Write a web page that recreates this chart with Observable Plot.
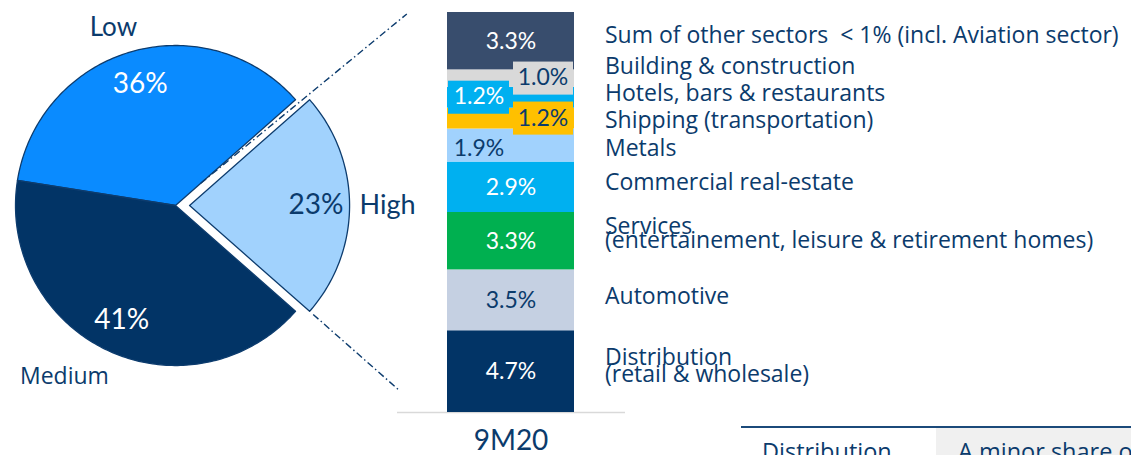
<!DOCTYPE html>
<html>
<head>
<meta charset="utf-8">
<script src="https://cdn.jsdelivr.net/npm/d3@7"></script>
<script src="https://cdn.jsdelivr.net/npm/@observablehq/plot@0.6"></script>
<style>
  html, body { margin: 0; padding: 0; background: #fff; }
  #wrap { position: relative; width: 1131px; height: 455px; overflow: hidden; font-family: Lato, sans-serif; color: #0b3b6c; }
  #pie { position: absolute; left: 0; top: 0; }
  #bar { position: absolute; left: 390px; top: 0; }
  .abs { position: absolute; }
  .tbl { font-family: "Open Sans", sans-serif; font-size: 23.5px; line-height: 21px; white-space: nowrap; }
</style>
</head>
<body>
<div id="wrap">
  <div id="pie"></div>
  <div id="bar"></div>
  <div class="abs" style="left:741px;top:426px;width:390px;height:1.5px;background:#1b4a7a;"></div>
  <div class="abs" style="left:936px;top:428px;width:195px;height:27px;background:#f0f0f0;"></div>
  <div class="abs tbl" style="left:762px;top:441px;">Distribution</div>
  <div class="abs tbl" style="left:958px;top:441px;">A minor share of</div>
</div>
<script>
// ---------- DATA ----------
const pieCategories = ["Low", "Medium", "High"];
const pieShares = [36, 41, 23];
const pieLabels = ["36%", "41%", "23%"];

const period = "9M20";
const sectors = [
  "Distribution\n(retail & wholesale)",
  "Automotive",
  "Services\n(entertainement, leisure & retirement homes)",
  "Commercial real-estate",
  "Metals",
  "Shipping (transportation)",
  "Hotels, bars & restaurants",
  "Building & construction",
  "Sum of other sectors \u00a0< 1% (incl. Aviation sector)"
];
const sectorShares = [4.7, 3.5, 3.3, 2.9, 1.9, 1.2, 1.2, 1.0, 3.3];
const sectorLabels = ["4.7%", "3.5%", "3.3%", "2.9%", "1.9%", "1.2%", "1.2%", "1.0%", "3.3%"];

// ---------- STYLE ----------
const navy = "#0b3b6c";
const pieColors = {Low: "#0a8bff", Medium: "#023466", High: "#a1d2fd"};
const sectorColors = ["#023466", "#c5d0e2", "#00b050", "#00b0f0", "#a1d2fd", "#ffc000", "#00b0f0", "#d9d9d9", "#384d6d"];
const sectorTextColors = ["#fff", navy, "#fff", "#fff", navy, navy, "#fff", navy, "#fff"];
// value label placement: 0 = centred, 1 = right box, -1 = left
const valuePlace = [0, 0, 0, 0, -1, 1, -1, 1, 0];
const valueBox = [false, false, false, false, false, true, true, true, false];
const valueNudgePx = [0, 0, 0, 0, 3, 0, -1, -1, 0];
const namesNudgePx = [-4, -4, -5, -5, 3, 2, -4, -12, -6];
const labelFont = "'Open Sans', sans-serif";

// ---------- PIE ----------
const R = 160;
const total = d3.sum(pieShares);
const order = ["High", "Low", "Medium"];
let start = -(pieShares[pieCategories.indexOf("High")] / total) * Math.PI;
const slices = order.map(name => {
  const i = pieCategories.indexOf(name);
  const a0 = start, a1 = start + pieShares[i] / total * 2 * Math.PI;
  start = a1;
  const explode = name === "High" ? 0.088 : 0;
  const mid = (a0 + a1) / 2;
  return {name, a0, a1, mid, label: pieLabels[i], ox: explode * Math.cos(mid), oy: explode * Math.sin(mid)};
});
const piePts = slices.flatMap(s => {
  const n = Math.ceil((s.a1 - s.a0) / (Math.PI / 180));
  const pts = [{name: s.name, x: s.ox, y: s.oy}];
  for (let k = 0; k <= n; k++) {
    const a = s.a0 + (s.a1 - s.a0) * k / n;
    pts.push({name: s.name, x: s.ox + Math.cos(a), y: s.oy + Math.sin(a)});
  }
  return pts;
});
const inner = slices.map(s => ({...s, x: s.ox + 0.79 * Math.cos(s.mid), y: s.oy + 0.79 * Math.sin(s.mid)}));
const outerLayout = {
  Low: {r: 1.18, da: 3, fs: 26, font: "Lato, sans-serif"},
  Medium: {r: 1.275, da: -7.8, fs: 23, font: labelFont},
  High: {r: 1.325, da: 0, fs: 27, font: "Lato, sans-serif"}
};
const outer = slices.map(s => {
  const L = outerLayout[s.name];
  const a = s.mid + L.da * Math.PI / 180;
  return {...s, fs: L.fs, font: L.font, x: L.r * Math.cos(a), y: L.r * Math.sin(a)};
});
const hs = slices[0];
const topA = hs.a1, botA = hs.a0;
const links = [
  {x1: 0.21 * Math.cos(topA), y1: 0.21 * Math.sin(topA), x2: hs.ox + 1.81 * Math.cos(topA), y2: hs.oy + 1.81 * Math.sin(topA)},
  {x1: hs.ox + 1.03 * Math.cos(botA), y1: hs.oy + 1.03 * Math.sin(botA), x2: hs.ox + 1.75 * Math.cos(botA), y2: hs.oy + 1.75 * Math.sin(botA)}
];

const piePlot = Plot.plot({
  width: 420, height: 455,
  marginTop: 0, marginBottom: 0, marginLeft: 0, marginRight: 0,
  x: {domain: [-175 / R, 245 / R], axis: null},
  y: {domain: [-250 / R, 205 / R], axis: null},
  color: {type: "identity"},
  style: {fontFamily: "Lato, sans-serif", overflow: "visible", background: "transparent"},
  marks: [
    Plot.line(piePts, {x: "x", y: "y", z: "name", fill: d => pieColors[d.name], stroke: "#0d3c6e", strokeWidth: 1.3, curve: "linear-closed"}),
    Plot.link(links, {x1: "x1", y1: "y1", x2: "x2", y2: "y2", stroke: "#0d3c6e", strokeWidth: 1.4, strokeDasharray: "7,3,1.5,3"}),
    Plot.text(inner, {x: "x", y: "y", text: "label", fill: d => d.name === "High" ? navy : "#fff", fontSize: 28}),
    ...outer.map(o => Plot.text([o], {x: "x", y: "y", text: "name", fill: navy, fontSize: o.fs, fontFamily: o.font}))
  ]
});
document.getElementById("pie").append(piePlot);

// ---------- BAR ----------
const sumShares = d3.sum(sectorShares);
const pxPerUnit = 400 / sumShares;
const cum = d3.cumsum(sectorShares);
const segs = sectors.map((name, i) => {
  const y2 = cum[i], y1 = y2 - sectorShares[i], mid = (y1 + y2) / 2;
  return {
    period, name, value: sectorShares[i], label: sectorLabels[i],
    y1, y2, mid,
    color: sectorColors[i], textColor: sectorTextColors[i],
    place: valuePlace[i], box: valueBox[i],
    vy: mid - valueNudgePx[i] / pxPerUnit,
    ny: mid - namesNudgePx[i] / pxPerUnit,
    multi: name.includes("\n")
  };
});
const boxHalf = 0.95;
const nameOpts = {x: "period", y: "ny", text: "name", fill: navy, fontSize: 23, fontFamily: labelFont, textAnchor: "start", dx: 94};

const barPlot = Plot.plot({
  width: 235, height: 455,
  marginTop: 12, marginBottom: 43, marginLeft: 7, marginRight: 0,
  x: {domain: [period], padding: 0.281, tickSize: 0, tickPadding: 18, label: null},
  y: {domain: [0, sumShares], axis: null},
  color: {type: "identity"},
  style: {fontFamily: "Lato, sans-serif", fontSize: "28px", color: navy, overflow: "visible", background: "transparent"},
  marks: [
    Plot.ruleY([0], {stroke: "#d9d9d9", strokeWidth: 1.5}),
    Plot.barY(segs, {x: "period", y1: "y1", y2: "y2", fill: "color"}),
    Plot.barY(segs.filter(d => d.box && d.place === 1), {x: "period", y1: d => d.mid - boxHalf, y2: d => d.mid + boxHalf, fill: "color", insetLeft: 66, insetRight: 1}),
    Plot.barY(segs.filter(d => d.box && d.place === -1), {x: "period", y1: d => d.mid - boxHalf, y2: d => d.mid + boxHalf, fill: "color", insetLeft: 1, insetRight: 65}),
    Plot.text(segs.filter(d => d.place === 0), {x: "period", y: "vy", text: "label", fill: "textColor", fontSize: 23}),
    Plot.text(segs.filter(d => d.place === 1), {x: "period", y: "vy", text: "label", fill: "textColor", fontSize: 23, dx: 32}),
    Plot.text(segs.filter(d => d.place === -1), {x: "period", y: "vy", text: "label", fill: "textColor", fontSize: 23, dx: -32}),
    Plot.text(segs.filter(d => !d.multi), nameOpts),
    Plot.text(segs.filter(d => d.multi && d.name.startsWith("Services")), {...nameOpts, lineHeight: 0.61}),
    Plot.text(segs.filter(d => d.multi && d.name.startsWith("Distribution")), {...nameOpts, lineHeight: 0.74})
  ]
});
document.getElementById("bar").append(barPlot);
</script>
</body>
</html>
